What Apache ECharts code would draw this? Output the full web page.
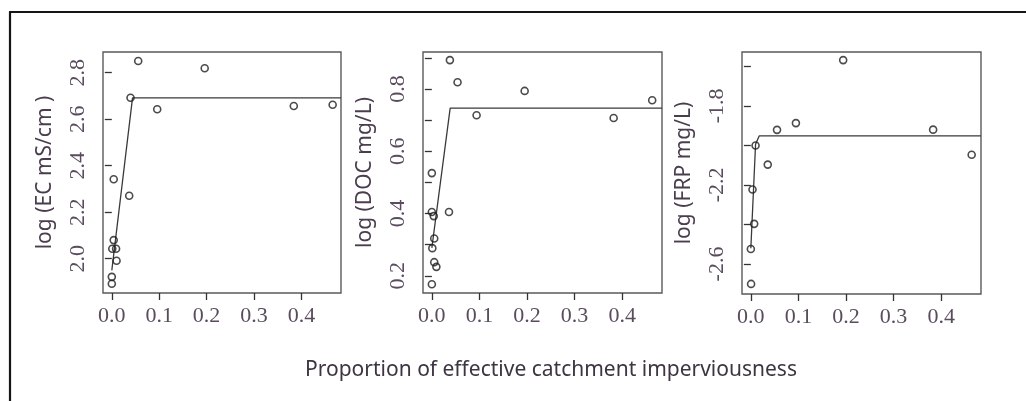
<!DOCTYPE html>
<html>
<head>
<meta charset="utf-8">
<script src="https://cdn.jsdelivr.net/npm/echarts@6/dist/echarts.min.js"></script>
<style>
html,body{margin:0;padding:0;background:#fff;}
#chart{width:1026px;height:401px;}
</style>
</head>
<body>
<div id="chart"></div>
<script>
// ---- data ----
const xTicks = [0.0, 0.1, 0.2, 0.3, 0.4];

const ecX = [0.0557, 0.196, 0.0395, 0.0958, 0.384, 0.466, 0.004, 0.0367, 0.004, 0.001, 0.009, 0.010, 0.0, 0.0];
const ecY = [2.850, 2.819, 2.692, 2.643, 2.657, 2.662, 2.342, 2.271, 2.080, 2.043, 2.043, 1.991, 1.922, 1.892];
const ecFitX = [0.0, 0.0437, 0.4836];
const ecFitY = [1.95, 2.692, 2.692];
const ecTicks = [2.0, 2.2, 2.4, 2.6, 2.8];
const ecLabels = [2.0, 2.2, 2.4, 2.6, 2.8];

const docX = [0.0379, 0.054, 0.195, 0.463, 0.094, 0.382, 0.0, 0.0, 0.036, 0.004, 0.005, 0.001, 0.005, 0.0095, 0.0];
const docY = [0.893, 0.822, 0.794, 0.764, 0.716, 0.707, 0.530, 0.405, 0.405, 0.392, 0.320, 0.289, 0.244, 0.229, 0.173];
const docFitX = [0.0, 0.0385, 0.4836];
const docFitY = [0.29, 0.739, 0.739];
const docTicks = [0.2, 0.3, 0.4, 0.5, 0.6, 0.7, 0.8, 0.9];
const docLabels = [0.2, 0.4, 0.6, 0.8];

const frpX = [0.194, 0.0947, 0.055, 0.383, 0.464, 0.0099, 0.0355, 0.0035, 0.007, 0.0, 0.0005];
const frpY = [-1.568, -1.887, -1.921, -1.920, -2.047, -2.000, -2.097, -2.223, -2.397, -2.524, -2.701];
const frpFitX = [0.0, 0.0099, 0.0175, 0.4836];
const frpFitY = [-2.52, -1.994, -1.952, -1.952];
const frpTicks = [-2.6, -2.4, -2.2, -2.0, -1.8, -1.6];
const frpLabels = [-2.6, -2.2, -1.8];

const yNames = ['log (EC mS/cm )', 'log (DOC mg/L)', 'log (FRP mg/L)'];
const xTitle = 'Proportion of effective catchment imperviousness';

// ---- layout / styles ----
const xRange = [-0.0186, 0.4836];
const yRanges = [[1.8525, 2.889], [0.145, 0.919], [-2.752, -1.527]];
const grids = [
  {left: 103, top: 52, width: 238, height: 241},
  {left: 423, top: 52, width: 239, height: 241},
  {left: 742, top: 52, width: 239, height: 242}
];
const labelColor = '#5a4c5e';
const nameColor = '#4a3e4e';
const serif = '"Liberation Serif", "DejaVu Serif", serif';
const sans = '"Noto Sans", "Open Sans", sans-serif';

const panels = [
  {x: ecX, y: ecY, fx: ecFitX, fy: ecFitY, ticks: ecTicks, labels: ecLabels},
  {x: docX, y: docY, fx: docFitX, fy: docFitY, ticks: docTicks, labels: docLabels},
  {x: frpX, y: frpY, fx: frpFitX, fy: frpFitY, ticks: frpTicks, labels: frpLabels}
];

const zip = (a, b) => a.map((v, i) => [v, b[i]]);

const option = {
  animation: false,
  backgroundColor: '#ffffff',
  grid: grids.map(g => Object.assign({show: true, borderColor: '#5a5a5a', borderWidth: 1.4, backgroundColor: 'transparent'}, g)),
  xAxis: panels.map((p, i) => ({
    type: 'value', gridIndex: i, min: xRange[0], max: xRange[1],
    axisLine: {show: false},
    splitLine: {show: false},
    axisTick: {show: true, inside: false, length: 7, customValues: xTicks, lineStyle: {color: '#333', width: 1.3}},
    axisLabel: {show: true, customValues: xTicks, margin: 12, fontFamily: serif, fontSize: 22, color: labelColor,
      formatter: v => Number(v).toFixed(1)}
  })),
  yAxis: panels.map((p, i) => ({
    type: 'value', gridIndex: i, min: yRanges[i][0], max: yRanges[i][1],
    axisLine: {show: false},
    splitLine: {show: false},
    axisTick: {show: true, inside: false, length: 7, customValues: p.ticks, lineStyle: {color: '#333', width: 1.3}},
    axisLabel: {show: true, customValues: p.labels, rotate: 90, margin: 14, fontFamily: serif, fontSize: 22, color: labelColor,
      formatter: v => Number(v).toFixed(1)},
    name: yNames[i], nameLocation: 'middle', nameRotate: 90, nameGap: 47,
    nameTextStyle: {fontFamily: sans, fontSize: 21, color: nameColor}
  })),
  series: [].concat(...panels.map((p, i) => ([
    {
      type: 'line', xAxisIndex: i, yAxisIndex: i, data: zip(p.fx, p.fy),
      showSymbol: false, symbol: 'none', clip: true,
      lineStyle: {color: '#3a3a3a', width: 1.3}, z: 2
    },
    {
      type: 'scatter', xAxisIndex: i, yAxisIndex: i, data: zip(p.x, p.y),
      symbol: 'circle', symbolSize: 7, clip: false,
      itemStyle: {color: 'rgba(255,255,255,0)', borderColor: '#1e1e1e', borderWidth: 1.6}, z: 3
    }
  ]))),
  graphic: [
    {type: 'line', shape: {x1: 10, y1: 12, x2: 10, y2: 401}, style: {stroke: '#151515', lineWidth: 2.2}},
    {type: 'line', shape: {x1: 9, y1: 12, x2: 1026, y2: 12}, style: {stroke: '#151515', lineWidth: 2.2}},
    {type: 'text', x: 551, y: 370, style: {text: xTitle, font: '21px ' + sans, fill: '#3e3442', textAlign: 'center', textVerticalAlign: 'middle'}}
  ]
};

const chart = echarts.init(document.getElementById('chart'), null, {renderer: 'canvas'});
chart.setOption(option);
</script>
</body>
</html>
